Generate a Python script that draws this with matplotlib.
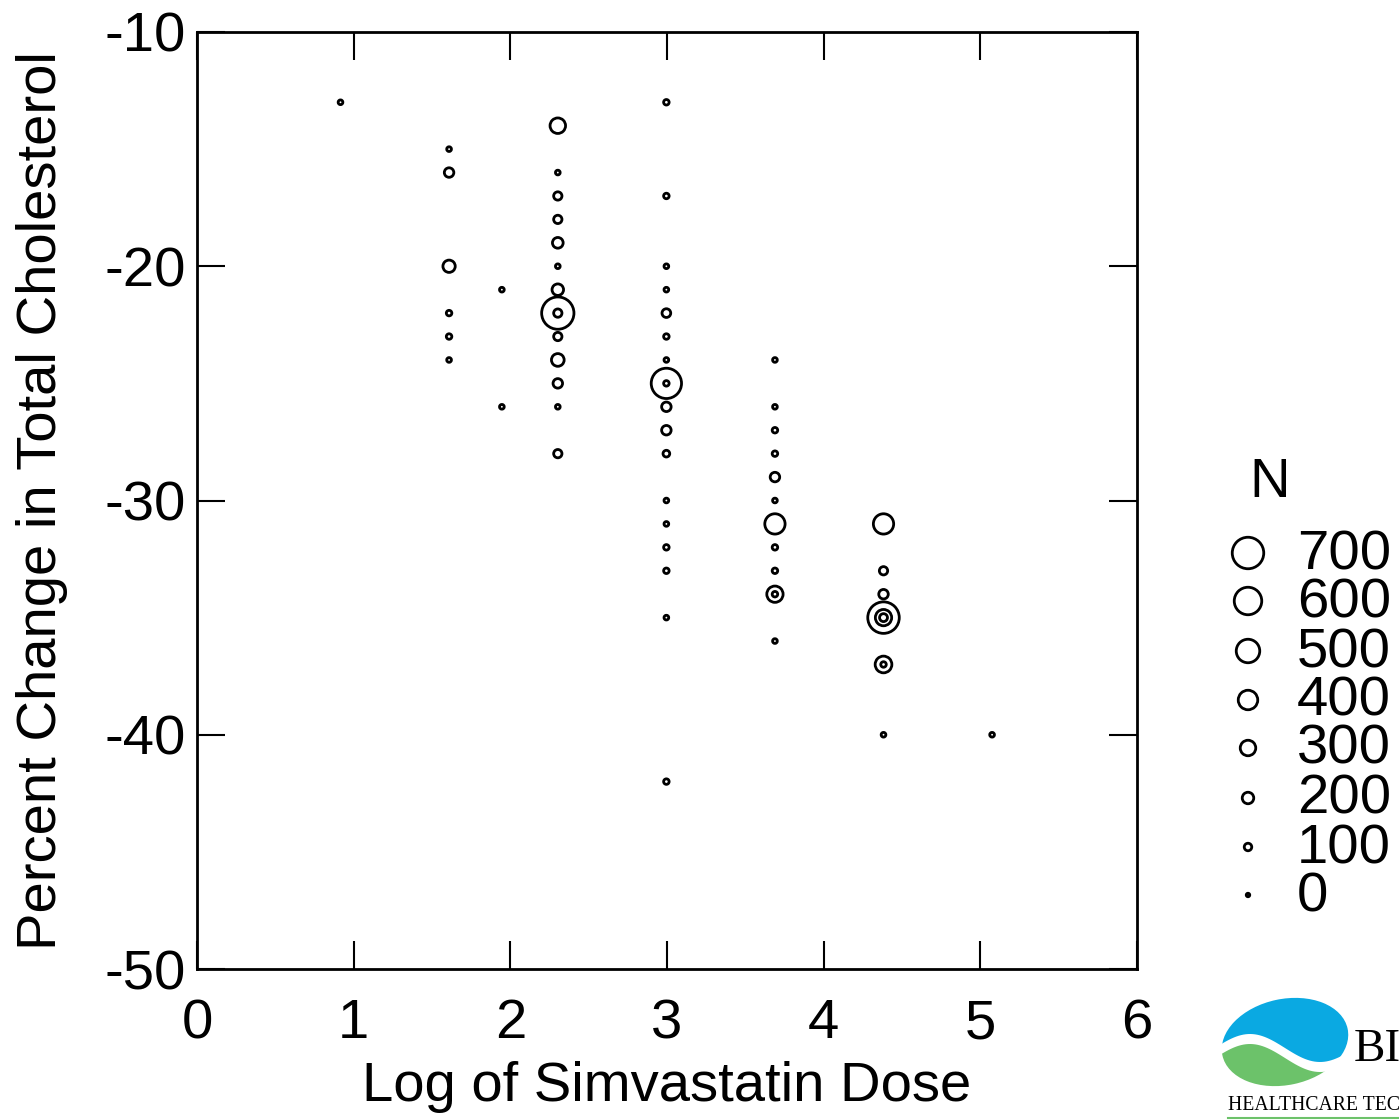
import numpy as np
import matplotlib
matplotlib.use("Agg")
import matplotlib.pyplot as plt
from matplotlib.patches import Ellipse, Polygon

plt.rcParams['font.family'] = ['Liberation Sans', 'DejaVu Sans']

# ---- data: log dose, percent change in total cholesterol, N ----
log_dose = [0.916,
            1.609, 1.609, 1.609, 1.609, 1.609, 1.609,
            1.946, 1.946,
            2.303, 2.303, 2.303, 2.303, 2.303, 2.303, 2.303, 2.303, 2.303, 2.303, 2.303, 2.303, 2.303, 2.303,
            2.996, 2.996, 2.996, 2.996, 2.996, 2.996, 2.996, 2.996, 2.996, 2.996, 2.996, 2.996, 2.996, 2.996, 2.996, 2.996, 2.996, 2.996,
            3.689, 3.689, 3.689, 3.689, 3.689, 3.689, 3.689, 3.689, 3.689, 3.689, 3.689, 3.689,
            4.382, 4.382, 4.382, 4.382, 4.382, 4.382, 4.382, 4.382, 4.382,
            5.075]
pct_change = [-13,
              -15, -16, -20, -22, -23, -24,
              -21, -26,
              -14, -16, -17, -18, -19, -20, -21, -22, -22, -23, -24, -25, -26, -28,
              -13, -17, -20, -21, -22, -23, -24, -25, -25, -26, -27, -28, -30, -31, -32, -33, -35, -42,
              -24, -26, -27, -28, -29, -30, -31, -32, -33, -34, -34, -36,
              -31, -33, -34, -35, -35, -35, -37, -37, -40,
              -40]
n_subj = [30,
          30, 150, 220, 50, 50, 30,
          30, 30,
          300, 30, 120, 120, 180, 30, 200, 720, 120, 120, 230, 150, 30, 120,
          50, 50, 30, 30, 130, 50, 30, 670, 50, 150, 150, 80, 30, 30, 50, 50, 30, 50,
          30, 30, 50, 50, 150, 30, 420, 50, 50, 320, 50, 30,
          420, 120, 150, 700, 320, 110, 330, 50, 30,
          30]

legend_n = [700, 600, 500, 400, 300, 200, 100, 0]
x_ticks = [0, 1, 2, 3, 4, 5, 6]
y_ticks = [-10, -20, -30, -40, -50]

W, H = 1399, 1120
FS = 40.5
fig = plt.figure(figsize=(W / 100, H / 100), dpi=100)

def size_of(n):
    d_px = 3.5 + 0.04 * np.asarray(n, dtype=float)
    return (d_px * 0.72) ** 2

ax = fig.add_axes([197 / W, 1 - 969 / H, (1137 - 197) / W, (969 - 32) / H])
ax.scatter(log_dose, pct_change, s=size_of(n_subj), facecolors='none',
           edgecolors='black', linewidths=2.0, zorder=3)
ax.set_xlim(0, 6)
ax.set_ylim(-50, -10)
ax.set_xticks(x_ticks)
ax.set_yticks(y_ticks)
ax.set_xticklabels([str(v) for v in x_ticks])
ax.set_yticklabels([str(v) for v in y_ticks])
ax.tick_params(direction='in', length=20, width=1.5, labelsize=FS,
               top=True, right=True, colors='black')
ax.tick_params(axis='x', pad=21)
ax.tick_params(axis='y', pad=8)
for sp in ax.spines.values():
    sp.set_linewidth(2)
ax.set_xlabel('Log of Simvastatin Dose', fontsize=FS, labelpad=8)
ax.set_ylabel('Percent Change in Total Cholesterol', fontsize=FS, labelpad=26)

# ---- legend (size key) ----
lax = fig.add_axes([0, 0, 1, 1], facecolor='none')
lax.set_xlim(0, W)
lax.set_ylim(H, 0)
lax.axis('off')
lax.text(1270, 483, 'N', fontsize=FS, ha='center', va='center')
ly = [553, 601, 651, 700, 748, 798, 847, 895]
lax.scatter([1248] * len(legend_n), ly, s=size_of(legend_n), facecolors='none',
            edgecolors='black', linewidths=2.0)
for n, yy in zip(legend_n, ly):
    lax.text(1297, yy + 2, str(n), fontsize=FS, ha='left', va='center')

# ---- logo ----
cx, cy = 1285, 1042
ell = Ellipse((cx, cy), 128, 86, angle=-12, transform=lax.transData, facecolor='none', edgecolor='none')
lax.add_patch(ell)
xs = np.linspace(1215, 1355, 60)
wave_top = cy + 6 - 14 * np.sin((xs - 1215) / 140 * 2 * np.pi)
wave_bot = wave_top + 10
blue = Polygon(np.vstack([np.c_[xs, wave_top], [[1355, 980], [1215, 980]]]),
               closed=True, facecolor='#0aa9e2', edgecolor='none', transform=lax.transData)
green = Polygon(np.vstack([np.c_[xs, wave_bot], [[1355, 1100], [1215, 1100]]]),
                closed=True, facecolor='#6cc26a', edgecolor='none', transform=lax.transData)
lax.add_patch(blue)
lax.add_patch(green)
blue.set_clip_path(ell)
green.set_clip_path(ell)
lax.text(1354, 1050, 'BI', fontsize=34, family='Liberation Serif', ha='left', va='center')
lax.text(1228, 1106, 'HEALTHCARE TEC', fontsize=14.2, family='Liberation Serif',
         ha='left', va='center')
lax.plot([1228, 1399], [1118, 1118], color='#6cc26a', lw=1.5)

fig.savefig('out.png', dpi=100)
